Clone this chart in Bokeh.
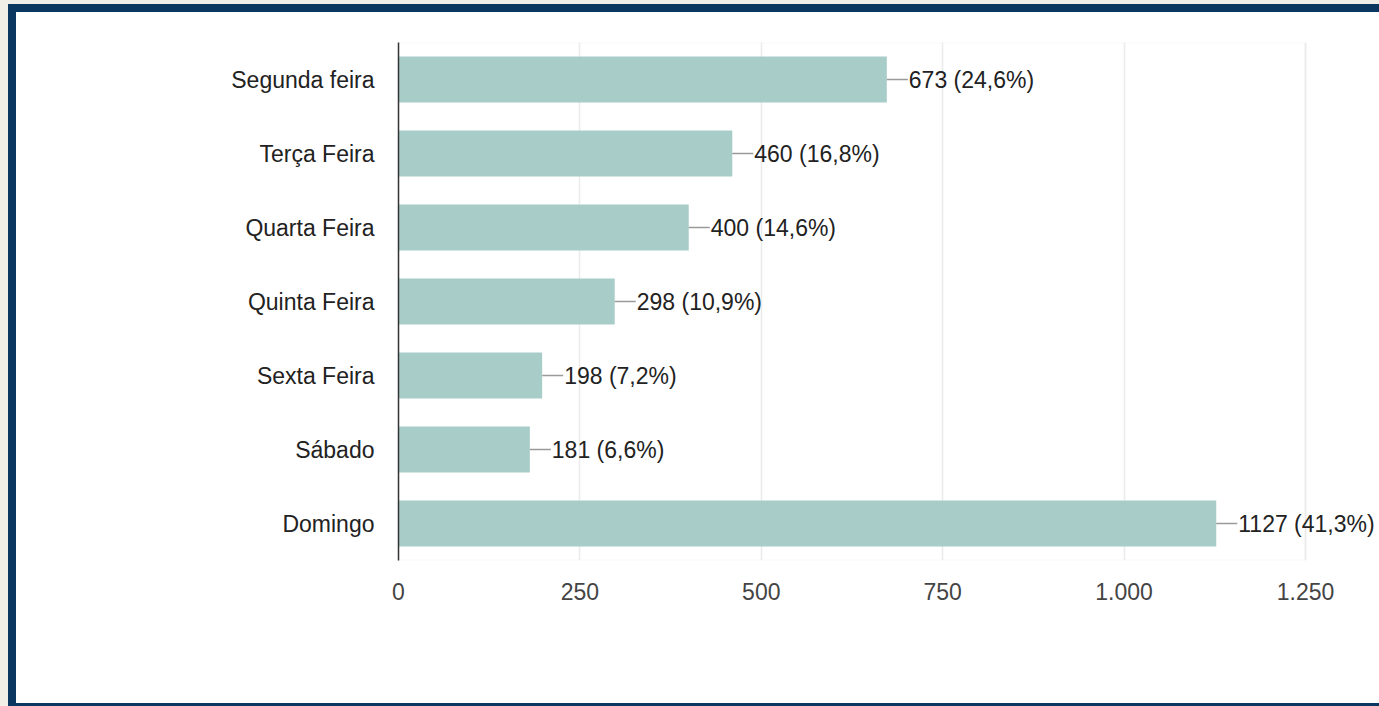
from bokeh.plotting import figure
from bokeh.models import (ColumnDataSource, FactorRange, Range1d, FixedTicker,
                          LabelSet, Spacer, BoxAnnotation)
from bokeh.layouts import column, row
from bokeh.core.properties import value
from bokeh.embed import file_html
from bokeh.resources import INLINE

# ---- data ----
categories = ["Segunda feira", "Terça Feira", "Quarta Feira", "Quinta Feira",
              "Sexta Feira", "Sábado", "Domingo"]
counts = [673, 460, 400, 298, 198, 181, 1127]
percents = [24.6, 16.8, 14.6, 10.9, 7.2, 6.6, 41.3]
tick_values = [0, 250, 500, 750, 1000, 1250]
tick_labels = ["0", "250", "500", "750", "1.000", "1.250"]
axis_max = 1250

FONT = "Liberation Sans"
FS = "23px"
NAVY = "#0b3660"
BEIGE = "#f1ede7"
BAR = "#a8cdc9"

# ---- geometry (pixels) ----
FIG_W, FIG_H = 1363, 691
LEFT_B, TOP_B = 382, 30
AXIS_W, FRAME_H = 907, 518          # width of 0..axis_max, frame height
FRAME_W = FIG_W - LEFT_B             # frame runs to the right edge
x_end = axis_max * FRAME_W / AXIS_W  # extra room so labels are not clipped
px_per_unit = AXIS_W / axis_max

labels = [f"{c} ({str(p).replace('.', ',')}%)" for c, p in zip(counts, percents)]
leader_len = 21 / px_per_unit
src = ColumnDataSource(dict(
    cat=categories, val=counts, lab=labels,
    lead_end=[c + leader_len for c in counts],
))

p = figure(
    width=FIG_W, height=FIG_H,
    x_range=Range1d(0, x_end),
    y_range=FactorRange(factors=list(reversed(categories))),
    output_backend="svg", toolbar_location=None,
    min_border_left=LEFT_B, min_border_right=0,
    min_border_top=TOP_B, min_border_bottom=FIG_H - TOP_B - FRAME_H,
    background_fill_color="white", border_fill_color="white",
)

p.add_layout(BoxAnnotation(left=0, right=axis_max, fill_alpha=0,
                           line_color="#e8e8e8", line_width=2, level="underlay"))

p.hbar(y="cat", right="val", left=0, height=0.62, source=src,
       fill_color=BAR, line_color=None)
p.segment(x0="val", y0="cat", x1="lead_end", y1="cat", source=src,
          line_color="#9a9a9a", line_width=1.5)

ls = LabelSet(x="val", y="cat", text="lab", source=src, x_offset=22,
              text_font=value(FONT), text_font_size=FS,
              text_color="#222222", text_baseline="middle", text_align="left")
p.add_layout(ls)

# x axis
p.xaxis.ticker = FixedTicker(ticks=tick_values)
p.xaxis.major_label_overrides = {v: l for v, l in zip(tick_values, tick_labels)}
p.xaxis.axis_line_color = None
p.xaxis.major_tick_line_color = None
p.xaxis.minor_tick_line_color = None
p.xaxis.major_label_standoff = 16
p.xaxis.major_label_text_font = FONT
p.xaxis.major_label_text_font_size = FS
p.xaxis.major_label_text_color = "#444444"

# y axis
p.yaxis.axis_line_color = "#333333"
p.yaxis.axis_line_width = 1.5
p.yaxis.major_tick_line_color = None
p.yaxis.minor_tick_line_color = None
p.yaxis.major_label_standoff = 18
p.yaxis.major_label_text_font = FONT
p.yaxis.major_label_text_font_size = FS
p.yaxis.major_label_text_color = "#222222"

p.xgrid.grid_line_color = "#ebebeb"
p.xgrid.grid_line_width = 1.5
p.ygrid.grid_line_color = None
p.outline_line_color = None

W, H = 1379, 706
top_beige = Spacer(width=W, height=4, styles={"background-color": BEIGE})
left_beige = Spacer(width=8, height=H - 4, styles={"background-color": BEIGE})
top_navy = Spacer(width=W - 8, height=8, styles={"background-color": NAVY})
left_navy = Spacer(width=8, height=FIG_H, styles={"background-color": NAVY})
bottom_navy = Spacer(width=W - 8, height=H - 4 - 8 - FIG_H,
                     styles={"background-color": NAVY})
inner = column(top_navy, row(left_navy, p, spacing=0), bottom_navy, spacing=0)
layout = column(top_beige, row(left_beige, inner, spacing=0), spacing=0)

open("out.html", "w").write(file_html(layout, INLINE))
